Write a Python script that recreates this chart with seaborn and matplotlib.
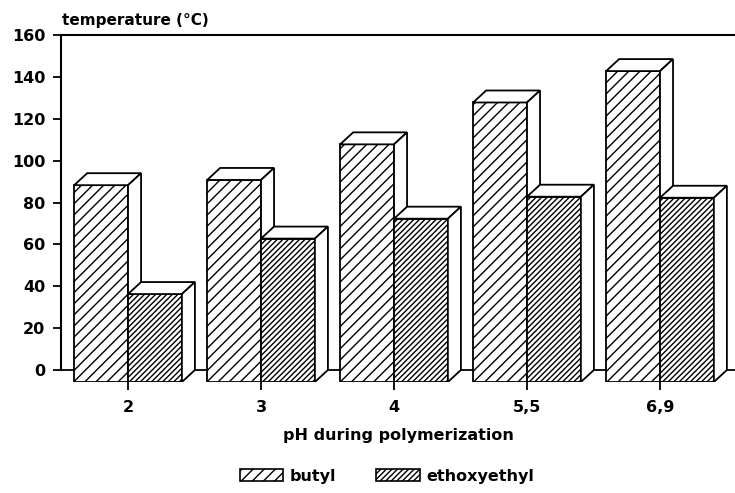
import matplotlib
matplotlib.use("Agg")
import matplotlib.pyplot as plt
import seaborn as sns
import pandas as pd
from matplotlib.patches import Polygon, Patch

# ---- data ----
categories = ["2", "3", "4", "5,5", "6,9"]
butyl = [94, 96.5, 113.5, 133.5, 148.5]
ethoxyethyl = [42, 68.5, 78, 88.5, 88]
series = ["butyl", "ethoxyethyl"]
yticks = [0, 20, 40, 60, 80, 100, 120, 140, 160]

sns.set_theme(style="white")
plt.rcParams["font.family"] = ["DejaVu Sans"]
plt.rcParams["hatch.linewidth"] = 1.0
plt.rcParams["text.color"] = "black"
plt.rcParams["axes.labelcolor"] = "black"

df = pd.DataFrame({
    "pH": categories * 2,
    "temp": butyl + ethoxyethyl,
    "series": [series[0]] * len(categories) + [series[1]] * len(categories),
})

W, H = 735, 493
fig = plt.figure(figsize=(W / 100, H / 100), dpi=100)
ax = fig.add_axes([61 / W, 1 - 382 / H, 1 - 61 / W, (382 - 35) / H])

sns.barplot(data=df, x="pH", y="temp", hue="series", order=categories,
            hue_order=series, width=0.81, ax=ax,
            palette=["white", "white"], saturation=1, edgecolor="black",
            linewidth=1.3, legend=False, errorbar=None)

DY = 5.73   # 3-D depth (data units, vertical)
DX = 0.098  # 3-D depth (category units, horizontal)
hatches = {"butyl": "///", "ethoxyethyl": "//////"}

bars = [p for p in ax.patches if p.get_height() > 0]
for p in bars:
    x0, w, h = p.get_x(), p.get_width(), p.get_height()
    cx = x0 + w / 2
    is_butyl = (cx - round(cx)) < 0
    name = "butyl" if is_butyl else "ethoxyethyl"
    z = 2 if is_butyl else 3
    p.set_y(-DY)
    p.set_hatch(hatches[name])
    p.set_zorder(z)
    top = Polygon([(x0, h - DY), (x0 + w, h - DY), (x0 + w + DX, h), (x0 + DX, h)],
                  closed=True, facecolor="white", edgecolor="black",
                  linewidth=1.3, zorder=z + 0.1)
    side = Polygon([(x0 + w, -DY), (x0 + w + DX, 0), (x0 + w + DX, h), (x0 + w, h - DY)],
                   closed=True, facecolor="white", edgecolor="black",
                   linewidth=1.3, zorder=z + 0.1)
    ax.add_patch(top)
    ax.add_patch(side)

ax.axhline(0, color="black", linewidth=1.3, zorder=1)
ax.set_xlim(-0.504, 4.564)
ax.set_ylim(-DY, 160)

for s in ["right", "bottom"]:
    ax.spines[s].set_visible(False)
for s in ["left", "top"]:
    ax.spines[s].set_color("black")
    ax.spines[s].set_linewidth(1.5)
ax.spines["left"].set_bounds(0, 160)

ax.set_yticks(yticks)
ax.set_yticklabels([str(t) for t in yticks], fontsize=11.5, fontweight="bold")
ax.set_xticks(range(len(categories)))
ax.set_xticklabels(categories, fontsize=11.5, fontweight="bold")
ax.tick_params(axis="y", left=True, direction="out", length=5.8, width=1.3,
               pad=5.5, colors="black")
ax.tick_params(axis="x", bottom=True, direction="out", length=6, width=1.3,
               pad=7, colors="black")
ax.set_ylabel("")
ax.set_xlabel("pH during polymerization", fontsize=11.5, fontweight="bold",
              labelpad=9, color="black")

fig.text(62 / W, 1 - 20 / H, "temperature (°C)", ha="left", va="center",
         fontsize=11, fontweight="bold", color="black")

handles = [Patch(facecolor="white", edgecolor="black", hatch=hatches[s], linewidth=1.2)
           for s in series]
fig.legend(handles, series, loc="center", bbox_to_anchor=(387 / W, 1 - 476 / H),
           ncol=2, frameon=False, prop={"weight": "bold", "size": 11.5},
           handlelength=2.75, handleheight=0.8, handletextpad=0.4,
           columnspacing=2.5, labelcolor="black")

fig.savefig("out.png", dpi=100)
